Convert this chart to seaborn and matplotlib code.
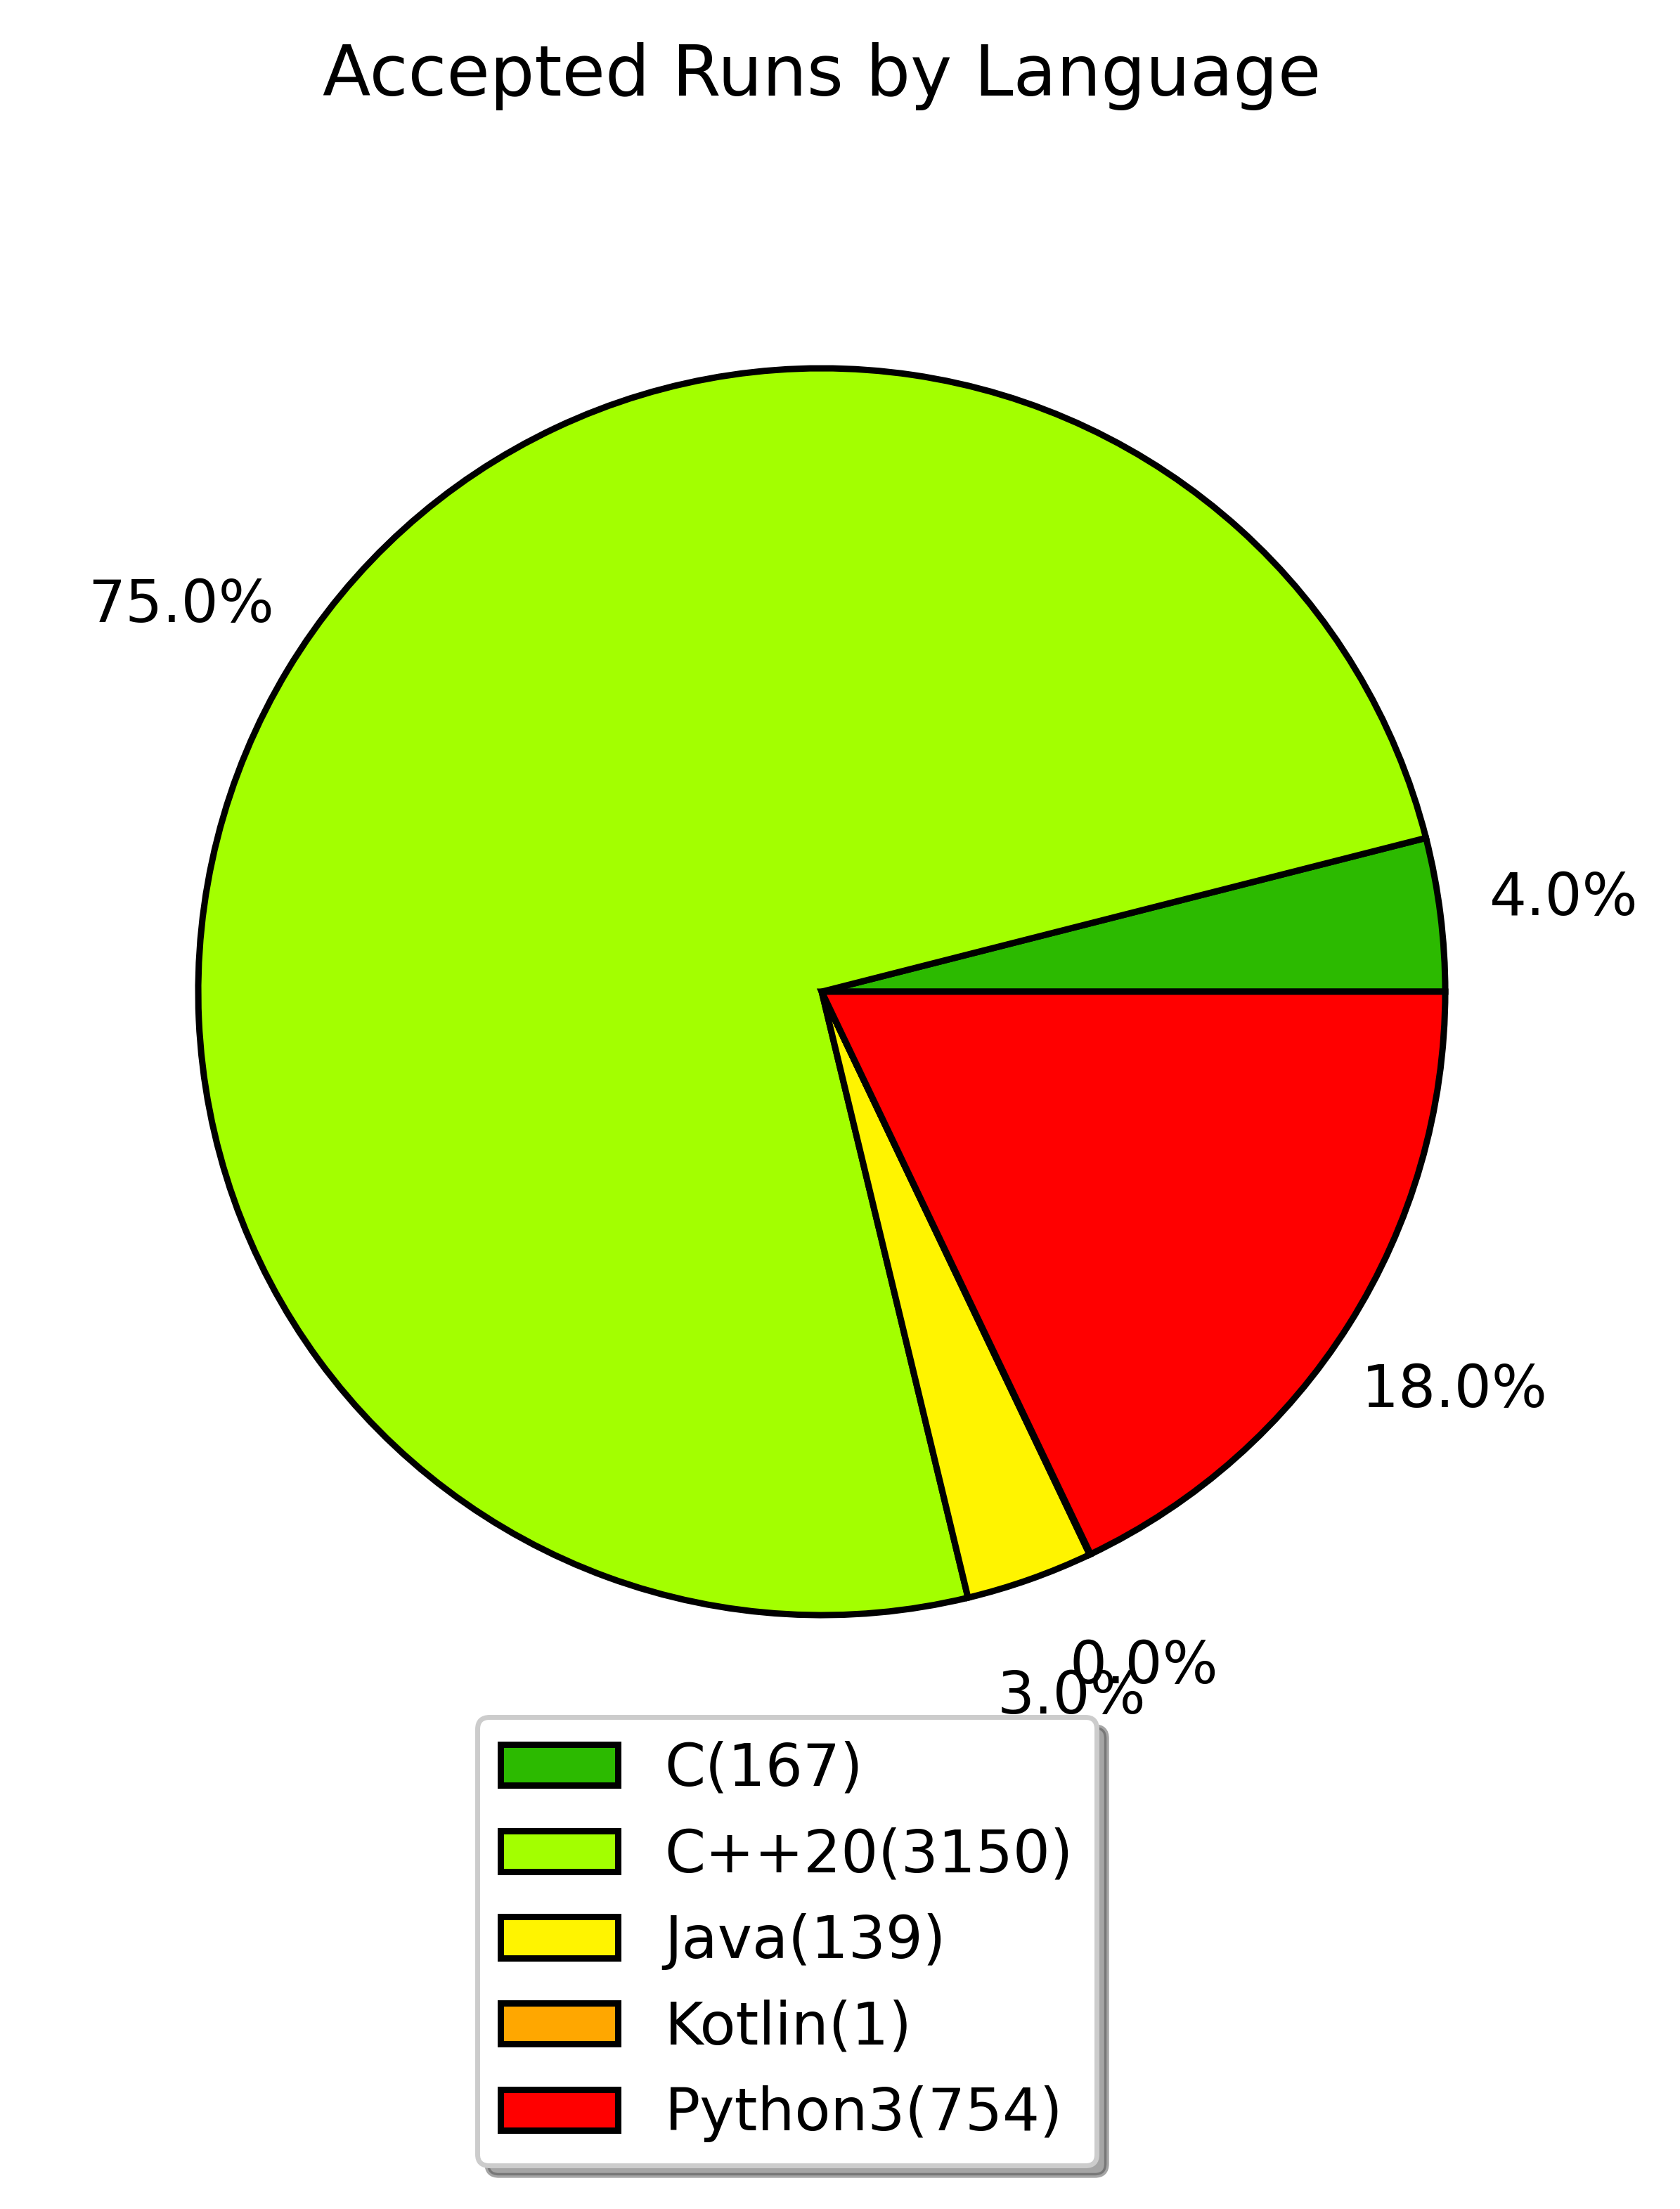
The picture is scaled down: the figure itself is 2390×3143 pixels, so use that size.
import matplotlib
matplotlib.use("Agg")
import matplotlib.pyplot as plt
import seaborn as sns

languages = ["C", "C++20", "Java", "Kotlin", "Python3"]
counts = [167, 3150, 139, 1, 754]
colors = ["#2cba00", "#a3ff00", "#fff400", "#ffa700", "#ff0000"]
title = "Accepted Runs by Language"

sns.set_theme(style="white", rc={"font.size": 12})
plt.rcParams["font.family"] = ["DejaVu Sans"]
plt.rcParams["font.size"] = 12
plt.rcParams["text.color"] = "black"
plt.rcParams["axes.labelcolor"] = "black"
plt.rcParams["axes.titlecolor"] = "black"

DPI = 500
W, H = 2390, 3143
fig = plt.figure(figsize=(W / DPI, H / DPI), dpi=DPI)

# pie geometry (pixels): center (1169, 1411), radius 887
cx, cy, r = 1169, 1411, 887
half = 1.25 * r
ax = fig.add_axes([(cx - half) / W, (H - cy - half) / H, 2 * half / W, 2 * half / H])

palette = sns.color_palette(colors)
labels = [f"{l}({c})" for l, c in zip(languages, counts)]

wedges, texts, autotexts = ax.pie(
    counts,
    colors=palette,
    autopct=lambda p: f"{round(p):.1f}%",
    pctdistance=1.2,
    startangle=0,
    wedgeprops=dict(edgecolor="black", linewidth=1.3),
    textprops=dict(fontsize=12, color="black"),
)
ax.set_title(title, fontsize=14.4, pad=24, color="black")

leg = fig.legend(
    wedges, labels,
    loc="upper left",
    bbox_to_anchor=(679 / W, 1 - 2443 / H),
    borderaxespad=0,
    fontsize=12,
    shadow=True,
    fancybox=True,
    frameon=True,
)
for t in leg.get_texts():
    t.set_color("black")

fig.savefig("out.png", dpi=DPI)
